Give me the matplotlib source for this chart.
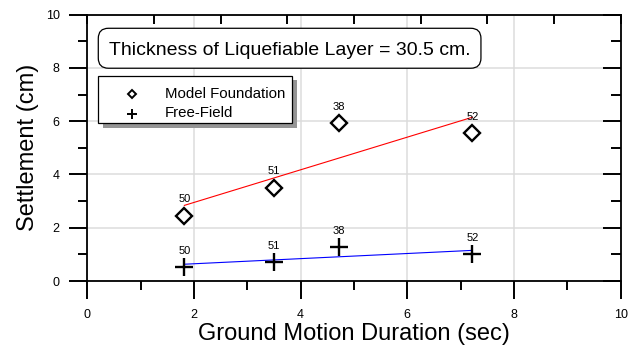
import matplotlib
matplotlib.use("Agg")
import matplotlib.pyplot as plt
from matplotlib.ticker import MultipleLocator
from matplotlib.patches import FancyBboxPatch, Rectangle
from matplotlib.lines import Line2D

plt.rcParams['font.family'] = ['Liberation Sans', 'DejaVu Sans']

# Data
duration = [1.82, 3.50, 4.72, 7.22]
model_settlement = [2.45, 3.51, 5.92, 5.55]
free_settlement = [0.54, 0.70, 1.29, 1.00]
point_labels = ["50", "51", "38", "52"]
trend_x = [1.82, 7.22]
trend_model = [2.84, 6.15]
trend_free = [0.63, 1.15]
series_names = ["Model Foundation", "Free-Field"]
box_text = "Thickness of Liquefiable Layer = 30.5 cm."

W, H = 640, 352
fig = plt.figure(figsize=(W/100, H/100), dpi=100)
ax = fig.add_axes([87.3/W, 1-281/H, (620.7-87.3)/W, (281-14.7)/H])


def px(x, y):
    return (x / W, 1 - y / H)


ax.set_xlim(0, 10)
ax.set_ylim(0, 10)
ax.xaxis.set_major_locator(MultipleLocator(2))
ax.xaxis.set_minor_locator(MultipleLocator(1))
ax.yaxis.set_major_locator(MultipleLocator(2))
ax.yaxis.set_minor_locator(MultipleLocator(1))
ax.grid(True, which='major', color='#dcdcdc', lw=1.1, zorder=0)
ax.set_axisbelow(True)

for s in ax.spines.values():
    s.set_linewidth(1.3)

ax.tick_params(which='major', direction='out', length=13.3, width=1.4,
               labelsize=9, top=False, right=False)
ax.tick_params(which='minor', direction='out', length=6.8, width=1.4,
               top=False, right=False)
ax.tick_params(axis='x', which='major', pad=7)
ax.tick_params(axis='y', which='major', pad=6.5)

# inner ticks on top / right
axt = ax.twiny()
axt.set_xlim(0, 10)
axt.xaxis.set_major_locator(MultipleLocator(1.25))
axt.xaxis.set_minor_locator(plt.NullLocator())
axt.tick_params(which='major', direction='in', length=6.8, width=1.4, labeltop=False)
axr = ax.twinx()
axr.set_ylim(0, 10)
axr.yaxis.set_major_locator(MultipleLocator(2))
axr.yaxis.set_minor_locator(MultipleLocator(1))
axr.tick_params(which='major', direction='in', length=13.3, width=1.4, labelright=False)
axr.tick_params(which='minor', direction='in', length=7.2, width=1.4)
for a in (axt, axr):
    for s in a.spines.values():
        s.set_visible(False)

ax.plot(trend_x, trend_model, color='red', lw=0.8, zorder=3)
ax.plot(trend_x, trend_free, color='blue', lw=0.8, zorder=3)
ax.plot(duration, model_settlement, linestyle='none', marker='D', ms=8.3,
        mfc='white', mec='black', mew=1.7, zorder=4)
ax.plot(duration, free_settlement, linestyle='none', marker='+', ms=12.5,
        mec='black', mew=1.7, zorder=4)

for x, ym, yf, lab in zip(duration, model_settlement, free_settlement, point_labels):
    ax.annotate(lab, (x, ym), xytext=(0, 12), textcoords='offset points',
                ha='center', va='center', fontsize=8, zorder=5)
    ax.annotate(lab, (x, yf), xytext=(0, 11.6), textcoords='offset points',
                ha='center', va='center', fontsize=8, zorder=5)

ax.set_xlabel("Ground Motion Duration (sec)", fontsize=17, labelpad=1.5)
ax.set_ylabel("Settlement (cm)", fontsize=17, labelpad=5)

# Title box
box = FancyBboxPatch((0.206, 7.99), 7.38 - 0.206, 9.49 - 7.99,
                     boxstyle="round,pad=0,rounding_size=0.19",
                     transform=ax.transData, fc='white', ec='black', lw=0.9, zorder=6,
                     mutation_aspect=2.0)
ax.add_patch(box)
ax.text((0.206 + 7.38) / 2, (281 - 55) / 26.63, box_text,
        ha='center', va='baseline', fontsize=14, zorder=7)

# Legend (drawn as a framed key with drop shadow)
lx0, ly0, lx1, ly1 = 98.3, 75.7, 292.3, 123.3
shadow = Rectangle(px(lx0 + 4.5, ly1 + 4.5), (lx1 - lx0) / W, (ly1 - ly0) / H,
                   transform=fig.transFigure, fc='#959595', ec='none', zorder=7,
                   clip_on=False)
frame = Rectangle(px(lx0, ly1), (lx1 - lx0) / W, (ly1 - ly0) / H,
                  transform=fig.transFigure, fc='white', ec='black', lw=0.9, zorder=8,
                  clip_on=False)
ax.add_patch(shadow)
ax.add_patch(frame)
legend_markers = [dict(marker='D', ms=3.6, mfc='white', mec='black', mew=1.4),
                  dict(marker='+', ms=7.5, mec='black', mew=1.4)]
row_y = [94.0, 113.7]
base_y = [98.3, 117.3]
for name, mk, yc, yb in zip(series_names, legend_markers, row_y, base_y):
    mx, my = px(132.3, yc)
    ax.add_line(Line2D([mx], [my], transform=fig.transFigure, ls='none',
                       zorder=9, clip_on=False, **mk))
    tx, ty = px(165, yb)
    fig.text(tx, ty, name, ha='left', va='baseline', fontsize=10.8, zorder=9)

fig.savefig("out.png", dpi=100)
